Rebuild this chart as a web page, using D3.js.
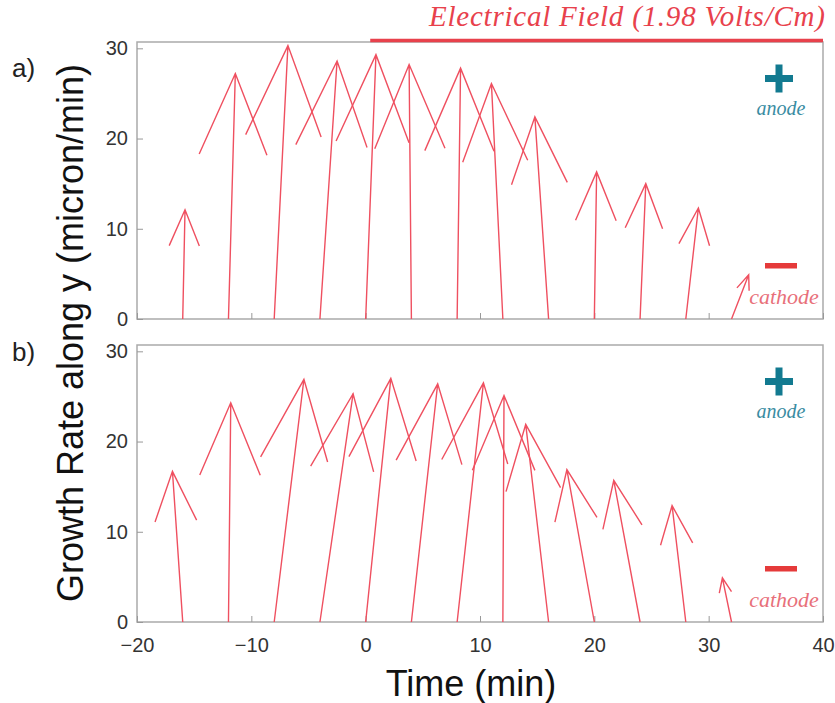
<!DOCTYPE html>
<html lang="en">
<head>
    <meta charset="UTF-8">
    <title>Growth Rate along y</title>
    <script src="https://d3js.org/d3.v7.min.js"></script>
    <style>
        body { margin: 0; background: #fff; }
        .tick text {
            font-family: "Liberation Sans", Arial, sans-serif;
            font-size: 20px;
            fill: #333;
        }
        .tick line { stroke: #999; stroke-width: 1; }
        .arrow {
            fill: none;
            stroke: #ef5060;
            stroke-width: 1.4px;
        }
        .frame { fill: none; stroke: #aaa; stroke-width: 1.5px; }
        .serif { font-family: "Liberation Serif", "Times New Roman", serif; font-style: italic; }
    </style>
</head>
<body>
    <svg id="chart"></svg>
    <script>
        // arrows start at y = 0 every 4 min and end at (tip time, rate)
        const baseTimes = [-16, -12, -8, -4, 0, 4, 8, 12, 16, 20, 24, 28, 32];
        const tipTimesA = [-15.8, -11.4, -6.8, -2.5, 0.9, 3.8, 8.3, 11.0, 14.8, 20.2, 24.5, 29.1, 33.5];
        const ratesA = [12.1, 27.2, 30.3, 28.6, 29.3, 28.2, 27.8, 26.1, 22.4, 16.3, 15.0, 12.3, 4.9];
        const tipTimesB = [-16.9, -11.8, -5.4, -1.1, 2.2, 6.3, 10.3, 12.1, 14.0, 17.6, 21.7, 26.8, 31.2];
        const ratesB = [16.7, 24.3, 26.9, 25.3, 27.0, 26.4, 26.5, 25.1, 21.9, 16.9, 15.7, 12.9, 4.9];
        const xTicks = [-20, -10, 0, 10, 20, 30, 40];
        const yTicks = [0, 10, 20, 30];
        const fieldStart = 0.4;   // field switched on (min)

        const width = 835, height = 703;
        const svg = d3.select("#chart").attr("width", width).attr("height", height);

        const x = d3.scaleLinear().domain([-20, 40]).range([137, 823]);

        const panels = [
            { label: "a)", top: 42, bottom: 319, tips: tipTimesA, rates: ratesA, labelY: 77, showX: false },
            { label: "b)", top: 345, bottom: 622, tips: tipTimesB, rates: ratesB, labelY: 361, showX: true }
        ];

        // matlab-style quiver head, computed in data units
        const alpha = 0.33, beta = 0.33;
        function arrowPath(y, x0, x1, v) {
            const u = x1 - x0;
            const h1 = [x1 - alpha * (u + beta * v), v - alpha * (v - beta * u)];
            const h2 = [x1 - alpha * (u - beta * v), v - alpha * (v + beta * u)];
            return "M" + x(x0) + "," + y(0) + "L" + x(x1) + "," + y(v) +
                "M" + x(h1[0]) + "," + y(h1[1]) + "L" + x(x1) + "," + y(v) +
                "L" + x(h2[0]) + "," + y(h2[1]);
        }

        panels.forEach(p => {
            const y = d3.scaleLinear().domain([0, 30.7]).range([p.bottom, p.top]);
            const g = svg.append("g");

            g.append("rect").attr("class", "frame")
                .attr("x", x(-20)).attr("y", p.top)
                .attr("width", x(40) - x(-20)).attr("height", p.bottom - p.top);

            const yAxis = g.append("g")
                .attr("transform", "translate(" + x(-20) + ",0)")
                .call(d3.axisLeft(y).tickValues(yTicks).tickSize(-6).tickPadding(9));
            yAxis.select(".domain").remove();

            const xAxis = g.append("g")
                .attr("transform", "translate(0," + p.bottom + ")")
                .call(d3.axisBottom(x).tickValues(xTicks).tickSize(-6).tickPadding(16)
                    .tickFormat(p.showX ? d3.format("d") : () => ""));
            xAxis.select(".domain").remove();

            // arrows
            g.selectAll(".arrow")
                .data(baseTimes)
                .enter().append("path")
                .attr("class", "arrow")
                .attr("d", (d, i) => arrowPath(y, d, p.tips[i], p.rates[i]));

            // panel letter
            svg.append("text")
                .attr("x", 12).attr("y", p.labelY)
                .style("font-family", "Liberation Sans, Arial, sans-serif")
                .style("font-size", "26px").style("fill", "#222")
                .text(p.label);

            // anode / cathode markers
            g.append("rect").attr("x", 765).attr("y", p.top + 33).attr("width", 28).attr("height", 7).attr("fill", "#127a90");
            g.append("rect").attr("x", 775.5).attr("y", p.top + 22.5).attr("width", 7).attr("height", 28).attr("fill", "#127a90");
            g.append("text").attr("class", "serif")
                .attr("x", 781).attr("y", p.top + 73).attr("text-anchor", "middle")
                .style("font-size", "20px").style("fill", "#3a8ca2")
                .text("anode");
            g.append("rect").attr("x", 765).attr("y", p.bottom - 56).attr("width", 32).attr("height", 5.5).attr("fill", "#e53a3a");
            g.append("text").attr("class", "serif")
                .attr("x", 784).attr("y", p.bottom - 15).attr("text-anchor", "middle")
                .style("font-size", "22px").style("fill", "#e8707a")
                .text("cathode");
        });

        // field indicator
        svg.append("line")
            .attr("x1", x(fieldStart)).attr("x2", x(40))
            .attr("y1", 40.5).attr("y2", 40.5)
            .attr("stroke", "#e8414c").attr("stroke-width", 3.5);
        svg.append("text").attr("class", "serif")
            .attr("x", 825).attr("y", 26).attr("text-anchor", "end")
            .attr("textLength", 396).attr("lengthAdjust", "spacing")
            .style("font-size", "29px").style("fill", "#e8414c")
            .text("Electrical Field (1.98 Volts/Cm)");

        // axis titles
        svg.append("text")
            .attr("transform", "translate(83,333) rotate(-90)")
            .attr("text-anchor", "middle")
            .style("font-family", "Liberation Sans, Arial, sans-serif")
            .style("font-size", "36px").style("fill", "#111")
            .text("Growth Rate along y (micron/min)");
        svg.append("text")
            .attr("x", 471).attr("y", 696).attr("text-anchor", "middle")
            .style("font-family", "Liberation Sans, Arial, sans-serif")
            .style("font-size", "36px").style("fill", "#111")
            .text("Time (min)");
    </script>
</body>
</html>
